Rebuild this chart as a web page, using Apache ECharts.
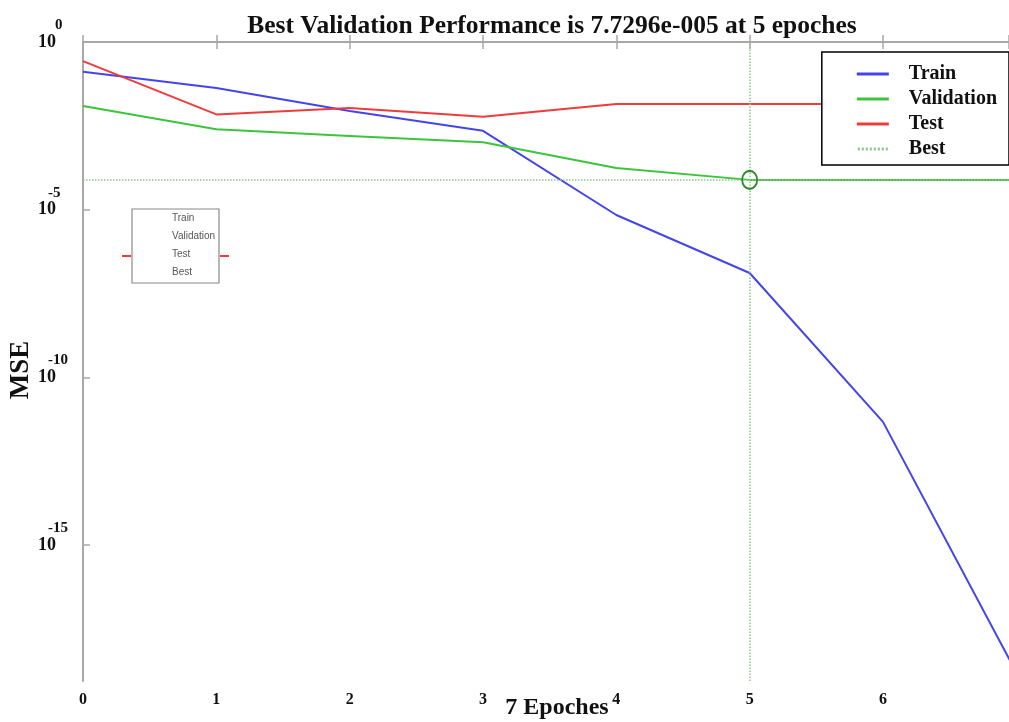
<!DOCTYPE html>
<html>
<head>
<meta charset="utf-8">
<script src="https://cdn.jsdelivr.net/npm/echarts@6/dist/echarts.min.js"></script>
<style>
html,body{margin:0;padding:0;background:#fff;}
#chart{width:1009px;height:722px;}
</style>
</head>
<body>
<div id="chart"></div>
<script>
// Epochs and log10(MSE) values
var epochs = [0, 1, 2, 3, 4, 5, 6, 7];
var trainLog10 = [-0.89, -1.37, -2.06, -2.65, -5.16, -6.89, -11.33, -18.8];
var validationLog10 = [-1.91, -2.60, -2.80, -2.99, -3.76, -4.112, -4.112, -4.112];
var testLog10 = [-0.57, -2.16, -1.97, -2.23, -1.85, -1.85, -1.85, -1.85];
var bestEpoch = 5;
var bestLog10 = Math.log10(7.7296e-5);
var yTickExponents = [0, -5, -10, -15];
var xTickLabels = ['0', '1', '2', '3', '4', '5', '6'];
var titleText = 'Best Validation Performance is 7.7296e-005 at 5 epoches';
var legendNames = ['Train', 'Validation', 'Test', 'Best'];

function pairs(xs, ys) { return xs.map(function (x, i) { return [x, ys[i]]; }); }

var serif = '"Liberation Serif", "DejaVu Serif", serif';
var axisGray = '#a8a8a8';
var blue = '#4444ee', green = '#3cc43c', red = '#ee3c3c', bestGreen = '#8cc88c';
var solidIcon = 'path://M0,0H32V3H0Z';
var dottedIcon = 'path://M0,0H2V3H0ZM4,0H6V3H4ZM8,0H10V3H8ZM12,0H14V3H12ZM16,0H18V3H16ZM20,0H22V3H20ZM24,0H26V3H24ZM28,0H30V3H28Z';

var chart = echarts.init(document.getElementById('chart'), null, {renderer: 'canvas'});
chart.setOption({
  animation: false,
  backgroundColor: '#ffffff',
  title: {
    text: titleText,
    left: 547, top: 8, textAlign: 'center',
    textStyle: {fontFamily: serif, fontWeight: 'bold', fontSize: 25.5, color: '#111'}
  },
  grid: {left: 83, right: 0, top: 42, bottom: 41, containLabel: false, outerBoundsMode: 'none'},
  legend: {
    data: legendNames.map(function (n) { return {name: n, icon: n === 'Best' ? dottedIcon : solidIcon}; }),
    orient: 'vertical',
    right: 0, top: 52,
    backgroundColor: '#fff',
    borderColor: '#000', borderWidth: 1.5,
    padding: [12, 12, 6, 35],
    itemWidth: 32, itemHeight: 3, itemGap: 5,
    textStyle: {fontFamily: serif, fontWeight: 'bold', fontSize: 20, color: '#111', lineHeight: 19, padding: [0, 0, 0, 15]}
  },
  xAxis: [{
    type: 'value', min: 0, max: 926 / 133.33, interval: 1,
    name: '7 Epoches', nameLocation: 'middle', nameGap: 15, nameMoveOverlap: false,
    nameTextStyle: {fontFamily: serif, fontWeight: 'bold', fontSize: 24, color: '#111', padding: [0, 0, 0, 22]},
    axisLine: {show: true, lineStyle: {color: axisGray, width: 2}},
    axisTick: {show: true, inside: true, length: 7, lineStyle: {color: axisGray, width: 1.5}},
    axisLabel: {
      margin: 11, fontFamily: serif, fontWeight: 'bold', fontSize: 16, color: '#111',
      formatter: function (v) { return xTickLabels[Math.round(v)] !== undefined ? xTickLabels[Math.round(v)] : ''; }
    },
    splitLine: {show: false}
  }, {
    type: 'value', position: 'top', min: 0, max: 926 / 133.33, interval: 1,
    axisLine: {show: true, onZero: false, lineStyle: {color: axisGray, width: 2}},
    axisTick: {show: true, inside: true, length: 7, lineStyle: {color: axisGray, width: 1.5}},
    axisLabel: {show: false},
    splitLine: {show: false}
  }],
  yAxis: {
    type: 'value', min: -(639 / 33.53), max: 0,
    name: 'MSE', nameLocation: 'middle', nameGap: 48, nameRotate: 90, nameMoveOverlap: false,
    nameTextStyle: {fontFamily: serif, fontWeight: 'bold', fontSize: 27, color: '#111', padding: [0, 17, 0, 0]},
    axisLine: {show: true, onZero: false, lineStyle: {color: axisGray, width: 2}},
    axisTick: {show: true, inside: true, length: 7, customValues: yTickExponents, lineStyle: {color: axisGray, width: 1.5}},
    axisLabel: {
      customValues: yTickExponents,
      align: 'left', margin: 45,
      formatter: function (v) {
        var e = Math.round(v);
        return (e === 0 ? '{s0|' + e + '}' : '{s|' + e + '}') + '\n{b|10}\n{e| }';
      },
      rich: {
        s0: {fontFamily: serif, fontWeight: 'bold', fontSize: 15, color: '#111', lineHeight: 17, padding: [0, 0, 0, 17]},
        s: {fontFamily: serif, fontWeight: 'bold', fontSize: 15, color: '#111', lineHeight: 17, padding: [0, 0, 0, 10]},
        b: {fontFamily: serif, fontWeight: 'bold', fontSize: 18, color: '#111', lineHeight: 17},
        e: {fontSize: 10, lineHeight: 17}
      }
    },
    splitLine: {show: false}
  },
  series: [{
    name: 'Train', type: 'line', symbol: 'none', data: pairs(epochs, trainLog10),
    lineStyle: {color: blue, width: 2}, itemStyle: {color: blue}, z: 3
  }, {
    name: 'Validation', type: 'line', symbol: 'none', data: pairs(epochs, validationLog10),
    lineStyle: {color: green, width: 2}, itemStyle: {color: green}, z: 3
  }, {
    name: 'Test', type: 'line', symbol: 'none', data: pairs(epochs, testLog10),
    lineStyle: {color: red, width: 2}, itemStyle: {color: red}, z: 3
  }, {
    name: 'Best', type: 'line', symbol: 'none', data: [[bestEpoch, bestLog10]],
    lineStyle: {color: bestGreen, width: 1.5, type: 'dotted'}, itemStyle: {color: bestGreen}, z: 2,
    markLine: {
      silent: true, symbol: 'none', label: {show: false},
      lineStyle: {color: bestGreen, width: 1.5, type: 'dotted'},
      data: [{xAxis: bestEpoch}, {yAxis: bestLog10}]
    },
    markPoint: {
      silent: true, symbol: 'circle', symbolSize: [15, 18], label: {show: false},
      itemStyle: {color: 'rgba(0,0,0,0)', borderColor: '#2f8a2f', borderWidth: 2},
      data: [{coord: [bestEpoch, bestLog10]}]
    }
  }],
  graphic: [
    {type: 'rect', shape: {x: 132, y: 209, width: 87, height: 74}, style: {fill: '#fff', stroke: '#8a8a8a', lineWidth: 1.2}, z: 10},
    {type: 'line', shape: {x1: 122, y1: 256, x2: 131, y2: 256}, style: {stroke: red, lineWidth: 2}, z: 10},
    {type: 'line', shape: {x1: 220, y1: 256, x2: 229, y2: 256}, style: {stroke: red, lineWidth: 2}, z: 10},
    {type: 'text', left: 172, top: 213, style: {text: 'Train', font: '10px "Liberation Sans", sans-serif', fill: '#555'}, z: 11},
    {type: 'text', left: 172, top: 231, style: {text: 'Validation', font: '10px "Liberation Sans", sans-serif', fill: '#555'}, z: 11},
    {type: 'text', left: 172, top: 249, style: {text: 'Test', font: '10px "Liberation Sans", sans-serif', fill: '#555'}, z: 11},
    {type: 'text', left: 172, top: 267, style: {text: 'Best', font: '10px "Liberation Sans", sans-serif', fill: '#555'}, z: 11}
  ]
});
</script>
</body>
</html>
